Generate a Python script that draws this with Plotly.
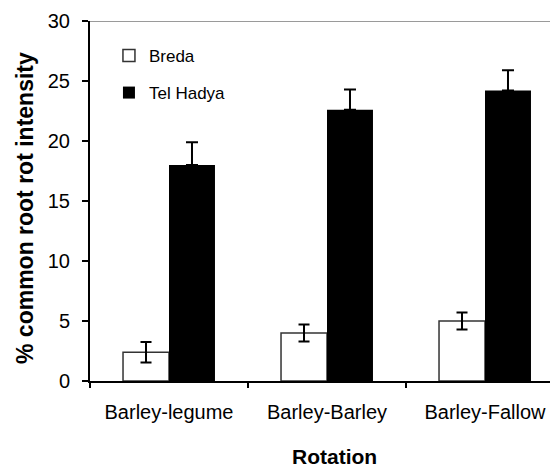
import plotly.graph_objects as go

categories = ["Barley-legume", "Barley-Barley", "Barley-Fallow"]
breda = [2.4, 4.0, 5.0]
breda_err = [0.85, 0.7, 0.7]
tel_hadya = [18.0, 22.6, 24.2]
tel_hadya_err = [1.9, 1.7, 1.7]
y_ticks = [0, 5, 10, 15, 20, 25, 30]

FONT = "Arial, Liberation Sans, sans-serif"

# page has an 8px body margin, so figure is 8px smaller and margins shifted
fig = go.Figure()
fig.add_trace(go.Bar(
    name="Breda", x=categories, y=breda, legendgroup="a",
    marker=dict(color="white", line=dict(color="#333333", width=1.5)),
    error_y=dict(type="data", array=breda_err, symmetric=True,
                 color="black", thickness=2, width=5.5),
))
fig.add_trace(go.Bar(
    name="Tel Hadya", x=categories, y=tel_hadya, legendgroup="b",
    marker=dict(color="black", line=dict(color="black", width=0)),
    error_y=dict(type="data", array=tel_hadya_err, arrayminus=[0, 0, 0],
                 symmetric=False, color="black", thickness=2, width=6),
))

fig.update_layout(
    width=550, height=459,
    margin=dict(l=82, r=0, t=13, b=86),
    paper_bgcolor="white", plot_bgcolor="white",
    barmode="group", bargap=0.418, bargroupgap=0,
    font=dict(family=FONT, color="black"),
    showlegend=True,
    legend=dict(x=0.0405, y=0.953, xanchor="left", yanchor="top",
                font=dict(size=17, family=FONT), tracegroupgap=12,
                traceorder="grouped", bgcolor="rgba(0,0,0,0)"),
    xaxis=dict(range=[-0.5, -0.5 + 468 / 158], showline=True, linecolor="black",
               linewidth=2, ticks="outside", tickson="boundaries", ticklen=5,
               tickwidth=1.5, tickcolor="black", tickfont=dict(size=20),
               ticklabelstandoff=12, showgrid=False, zeroline=False,
               fixedrange=True),
    yaxis=dict(range=[0, 30], tickvals=y_ticks, showline=True, linecolor="black",
               linewidth=2, ticks="outside", ticklen=6, tickwidth=1.5,
               tickcolor="black", tickfont=dict(size=20), ticklabelstandoff=8,
               showgrid=False, zeroline=False),
    shapes=[dict(type="line", xref="paper", yref="y", x0=0, x1=1, y0=30, y1=30,
                 line=dict(color="#9a9a9a", width=2))],
    annotations=[
        dict(text="<b>Rotation</b>", xref="paper", yref="paper",
             x=(334.5 - 90) / 468, y=(381 - 457) / 360, xanchor="center",
             yanchor="middle", showarrow=False, font=dict(size=21, family=FONT)),
        dict(text="<b>% common root rot intensity</b>", xref="paper", yref="paper",
             x=(25 - 90) / 468, y=(381 - 208) / 360, xanchor="center",
             yanchor="middle", textangle=-90, showarrow=False,
             font=dict(size=23, family=FONT)),
    ],
)

fig.write_html("out.html")
